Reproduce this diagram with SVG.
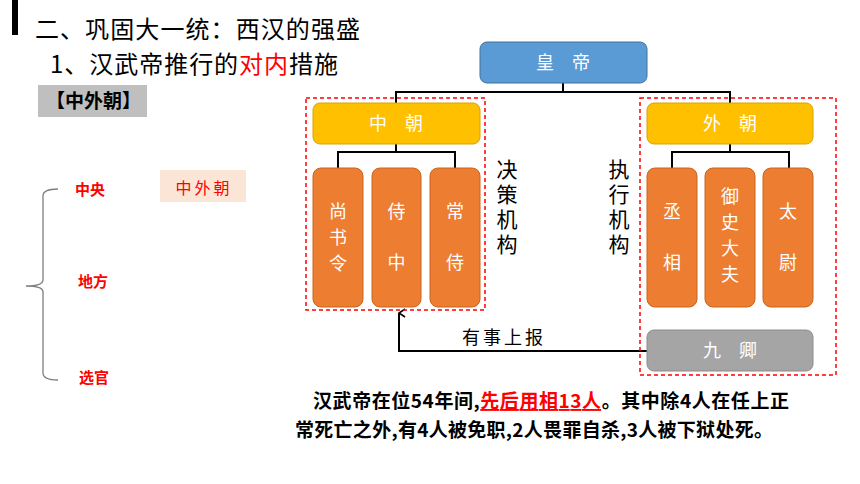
<svg xmlns="http://www.w3.org/2000/svg" width="860" height="484" viewBox="0 0 860 484">
<defs>
<marker id="arr" viewBox="0 0 10 10" refX="5" refY="1" markerWidth="10" markerHeight="10" markerUnits="userSpaceOnUse" orient="auto-start-reverse">
<path d="M1,7 L5,1 L9,7" fill="none" stroke="#000" stroke-width="1.6"/>
</marker>
<style>
text{font-family:"Noto Sans CJK SC","Liberation Sans",sans-serif}
.t{font-size:24px;fill:#000}
.w{fill:#fff;font-size:18px;text-anchor:middle}
.blue{fill:#5B9BD5;stroke:#41719C;stroke-width:1}
.yel{fill:#FFC000;stroke:#D6A300;stroke-width:1}
.ora{fill:#ED7D31;stroke:#C9641F;stroke-width:1}
.gry{fill:#A5A5A5;stroke:#8C8C8C;stroke-width:1}
.dash{fill:none;stroke:#FF0000;stroke-width:1.5;stroke-dasharray:4,3}
.ln{fill:none;stroke:#000;stroke-width:2}
.red{fill:#FF0000;font-weight:bold;font-size:15px}
.vt{font-size:21px;fill:#000;writing-mode:vertical-rl;letter-spacing:4px}
.bt{font-size:19px;font-weight:bold;fill:#000}
</style>
</defs>
<rect width="860" height="484" fill="#fff"/>
<rect x="12" y="0" width="6" height="35" fill="#000"/>
<text class="t" x="35" y="38" textLength="325" lengthAdjust="spacing">二、巩固大一统：西汉的强盛</text>
<text class="t" x="50" y="73" textLength="288" lengthAdjust="spacing">1、汉武帝推行的<tspan fill="#FF0000">对内</tspan>措施</text>
<g id="tag">
<rect x="38" y="85" width="109" height="32" fill="#BFBFBF"/>
<text x="46" y="108" font-size="19" font-weight="bold" fill="#000">【中外朝】</text>
</g>
<g id="brace">
<path d="M58,189 Q43,189 43,196 L43,280 Q43,286 26,286 Q43,286 43,292 L43,373 Q43,380 58,380" fill="none" stroke="#7F7F7F" stroke-width="1.3"/>
<text class="red" x="75" y="195">中央</text>
<text class="red" x="78" y="287">地方</text>
<text class="red" x="79" y="383">选官</text>
</g>
<g id="zwc">
<rect x="160" y="170" width="86" height="32" fill="#FBE5D6"/>
<text x="204" y="194" font-size="16" fill="#FF0000" text-anchor="middle" letter-spacing="3">中外朝</text>
</g>
<g id="connectors">
<path class="ln" d="M563,83 V92 M396,103 V92 H730 V103"/>
<path class="ln" d="M396,144 V152 M338,168 V152 H455 V168"/>
<path class="ln" d="M730,144 V152 M672,168 V152 H789 V168"/>
<path class="ln" d="M647,351 H399 V313" marker-end="url(#arr)"/>
<text x="504" y="344" font-size="18" fill="#000" text-anchor="middle" letter-spacing="3">有事上报</text>
</g>
<g id="group-left"><rect class="dash" x="306" y="98" width="179" height="212"/></g>
<g id="group-right"><rect class="dash" x="640" y="98" width="196" height="277"/></g>
<g id="emperor">
<rect class="blue" x="480" y="42" width="167" height="41" rx="7"/>
<text class="w" x="563" y="69">皇　帝</text>
</g>
<g id="zhongchao">
<rect class="yel" x="313" y="103" width="167" height="41" rx="7"/>
<text class="w" x="396" y="130">中　朝</text>
</g>
<g id="waichao">
<rect class="yel" x="647" y="103" width="166" height="41" rx="7"/>
<text class="w" x="730" y="130">外　朝</text>
</g>
<g id="shangshuling">
<rect class="ora" x="313" y="168" width="50" height="139" rx="8"/>
<text class="w" x="338" y="218">尚<tspan x="338" dy="26">书</tspan><tspan x="338" dy="26">令</tspan></text>
</g>
<g id="shizhong">
<rect class="ora" x="372" y="168" width="49" height="139" rx="8"/>
<text class="w" x="396.5" y="218">侍<tspan x="396.5" dy="51">中</tspan></text>
</g>
<g id="changshi">
<rect class="ora" x="430" y="168" width="50" height="139" rx="8"/>
<text class="w" x="455" y="218">常<tspan x="455" dy="51">侍</tspan></text>
</g>
<g id="chengxiang">
<rect class="ora" x="647" y="168" width="50" height="139" rx="8"/>
<text class="w" x="672" y="218">丞<tspan x="672" dy="51">相</tspan></text>
</g>
<g id="yushidafu">
<rect class="ora" x="705" y="168" width="50" height="139" rx="8"/>
<text class="w" x="730" y="203">御<tspan x="730" dy="26">史</tspan><tspan x="730" dy="26">大</tspan><tspan x="730" dy="26">夫</tspan></text>
</g>
<g id="taiwei">
<rect class="ora" x="763" y="168" width="50" height="139" rx="8"/>
<text class="w" x="788" y="218">太<tspan x="788" dy="51">尉</tspan></text>
</g>
<g id="jiuqing">
<rect class="gry" x="647" y="330" width="166" height="41" rx="7"/>
<text class="w" x="730" y="357">九　卿</text>
</g>
<g id="label-juece">
<text class="vt" x="507" y="159">决策机构</text>
</g>
<g id="label-zhixing">
<text class="vt" x="619" y="159">执行机构</text>
</g>
<g id="note">
<text class="bt" x="313" y="408" textLength="476" lengthAdjust="spacing">汉武帝在位54年间,<tspan fill="#FF0000" text-decoration="underline">先后用相13人</tspan>。其中除4人在任上正</text>
<text class="bt" x="295" y="437" textLength="478" lengthAdjust="spacing">常死亡之外,有4人被免职,2人畏罪自杀,3人被下狱处死。</text>
</g>
</svg>
